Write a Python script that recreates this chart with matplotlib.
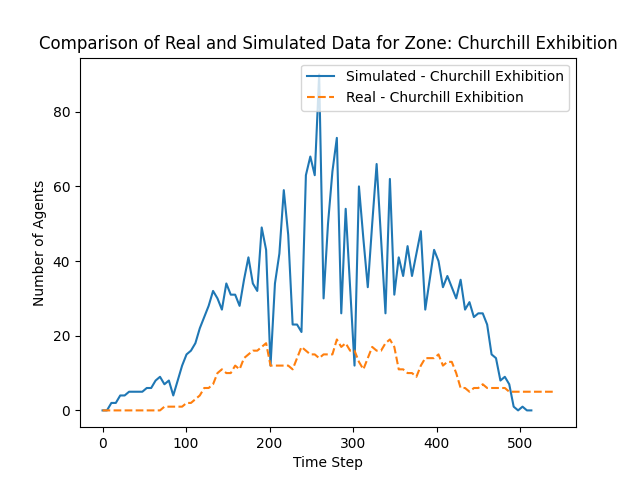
import numpy as np
import matplotlib
matplotlib.use("Agg")
import matplotlib.pyplot as plt

zona = "Churchill Exhibition"

# datos (un registro cada ~5.3 pasos)
dt = 540.0 / 102

simulado = [0, 0, 2, 2, 4, 4, 5, 5, 5, 5,
            6, 6, 8, 9, 7, 8, 4, 8, 12, 15,
            16, 18, 22, 25, 28, 32, 30, 27, 34, 31,
            31, 28, 35, 41, 34, 32, 49, 43, 12, 34,
            42, 59, 47, 23, 23, 21, 63, 68, 63, 90,
            30, 50, 64, 73, 26, 54, 33, 12, 60, 46,
            33, 50, 66, 46, 26, 62, 31, 41, 36, 44,
            36, 42, 48, 27, 35, 43, 40, 33, 36, 33,
            30, 35, 27, 29, 25, 26, 26, 23, 15, 14,
            8, 9, 7, 1, 0, 1, 0, 0]

real = [0, 0, 0, 0, 0, 0, 0, 0, 0, 0,
        0, 0, 0, 0, 1, 1, 1, 1, 1, 2,
        2, 3, 4, 6, 6, 7, 10, 11, 10, 10,
        12, 11, 14, 15, 16, 16, 17, 18, 12, 12,
        12, 12, 12, 11, 14, 17, 16, 15, 15, 14,
        15, 15, 15, 19, 17, 18, 16, 16, 13, 11,
        14, 17, 16, 16, 18, 19, 17, 11, 11, 10,
        10, 9, 12, 14, 14, 14, 15, 12, 13, 13,
        10, 6, 6, 5, 6, 6, 7, 6, 6, 6,
        6, 6, 5, 5, 5, 5, 5, 5, 5, 5,
        5, 5, 5]

t_sim = np.arange(len(simulado)) * dt
t_real = np.arange(len(real)) * dt

##Grafica
fig = plt.figure(figsize=(6.4, 4.8), dpi=100)
plt.plot(t_sim, simulado, label='Simulated - ' + zona)
plt.plot(t_real, real, '--', label='Real - ' + zona)
plt.xlabel("Time Step")
plt.ylabel("Number of Agents")
plt.title("Comparison of Real and Simulated Data for Zone: " + zona)
plt.legend(loc='upper right')
plt.savefig("out.png")
plt.close()
